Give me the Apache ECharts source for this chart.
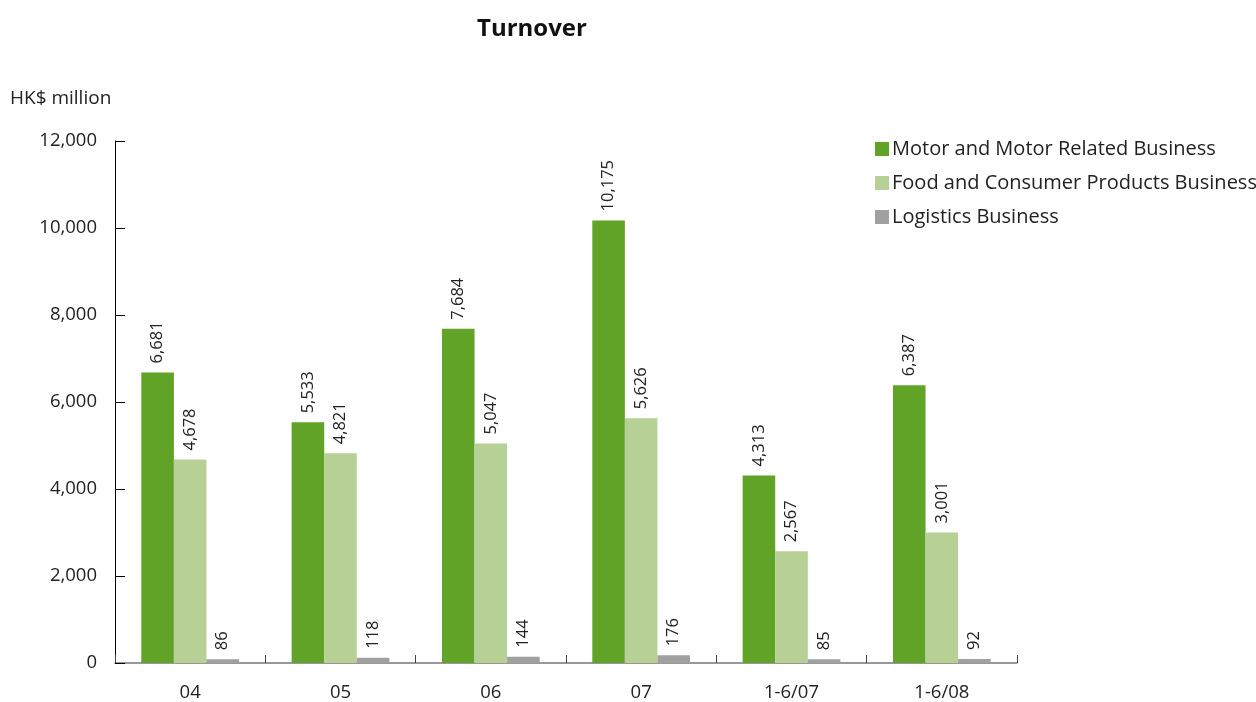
<!DOCTYPE html>
<html>
<head>
<meta charset="utf-8">
<script src="https://cdn.jsdelivr.net/npm/echarts@6/dist/echarts.min.js"></script>
<style>html,body{margin:0;padding:0;background:#fff}#c{width:1256px;height:702px}</style>
</head>
<body>
<div id="c"></div>
<script>
const categories = ['04', '05', '06', '07', '1-6/07', '1-6/08'];
const motor = [6681, 5533, 7684, 10175, 4313, 6387];
const food = [4678, 4821, 5047, 5626, 2567, 3001];
const logistics = [86, 118, 144, 176, 85, 92];
const seriesNames = ['Motor and Motor Related Business', 'Food and Consumer Products Business', 'Logistics Business'];
const colors = ['#61a327', '#b6d095', '#a0a0a0'];

const FONT = '"Open Sans", "Noto Sans", sans-serif';
const fmt = v => Number(v).toLocaleString('en-US');

const chart = echarts.init(document.getElementById('c'));
const mk = (name, data, color) => ({
  name, type: 'bar', data,
  itemStyle: { color },
  barGap: '0%', barCategoryGap: '35%',
  label: {
    show: true, position: 'top', rotate: 90, align: 'left', verticalAlign: 'middle',
    distance: 9, fontSize: 16.5, color: '#222', fontFamily: FONT,
    formatter: p => fmt(p.value)
  }
});
chart.setOption({
  animation: false,
  backgroundColor: '#fff',
  title: {
    text: 'Turnover', left: 472, top: 12,
    textStyle: { fontSize: 24, fontWeight: 'bold', color: '#111', fontFamily: FONT }
  },
  graphic: [{
    type: 'text', left: 10, top: 89,
    style: { text: 'HK$ million', fontSize: 19, fill: '#222', fontFamily: FONT }
  }],
  legend: {
    orient: 'vertical', left: 870, top: 134, itemWidth: 14, itemHeight: 14, itemGap: 14,
    icon: 'rect',
    textStyle: { fontSize: 20, color: '#222', fontFamily: FONT, padding: [0, 0, 0, -2] },
    data: seriesNames
  },
  grid: { left: 115, right: 239, top: 141, bottom: 39, containLabel: false },
  xAxis: {
    type: 'category', data: categories,
    axisLine: { lineStyle: { color: '#777', width: 1.5 } },
    axisTick: { show: true, inside: true, length: 8, lineStyle: { color: '#444' } },
    axisLabel: { fontSize: 18.5, color: '#222', fontFamily: FONT, margin: 20 }
  },
  yAxis: {
    type: 'value', min: 0, max: 12000, interval: 2000,
    axisLine: { show: true, lineStyle: { color: '#000', width: 1 } },
    axisTick: { show: true, inside: true, length: 10, lineStyle: { color: '#000' } },
    splitLine: { show: false },
    axisLabel: { fontSize: 18.5, color: '#222', fontFamily: FONT, margin: 18, formatter: v => fmt(v) }
  },
  series: [
    mk(seriesNames[0], motor, colors[0]),
    mk(seriesNames[1], food, colors[1]),
    mk(seriesNames[2], logistics, colors[2])
  ]
});
</script>
</body>
</html>
